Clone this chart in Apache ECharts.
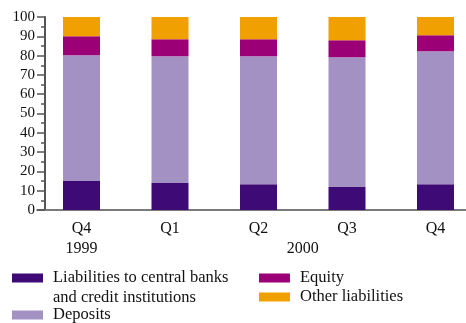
<!DOCTYPE html>
<html>
<head>
<meta charset="utf-8">
<script src="https://cdn.jsdelivr.net/npm/echarts@6/dist/echarts.min.js"></script>
<style>
  html, body { margin: 0; padding: 0; background: #fff; }
  #chart { width: 466px; height: 323px; }
</style>
</head>
<body>
<div id="chart"></div>
<script>
// quarters on the x axis
let quarters = ['Q4', 'Q1', 'Q2', 'Q3', 'Q4'];
// year labels, placed by position in band units
let yearPos = [0.5, 3];
let yearText = ['1999', '2000'];

// percent of total liabilities
let liabilities = [15.0, 14.0, 13.4, 11.9, 13.4];
let deposits = [65.2, 65.7, 66.3, 67.3, 68.9];
let equity = [9.8, 8.8, 8.8, 8.8, 8.2];
let other = [10.0, 11.5, 11.5, 12.0, 9.5];

let names = ['Liabilities to central banks\nand credit institutions', 'Deposits', 'Equity', 'Other liabilities'];
let colors = ['#3e0a76', '#a391c3', '#9c0077', '#f0a000'];
let values = [liabilities, deposits, equity, other];

let font = 'Liberation Serif';

let series = [];
for (let i = 0; i < names.length; i++) {
    series.push({
        name: names[i],
        type: 'bar',
        stack: 'total',
        barWidth: 37,
        data: values[i],
        itemStyle: { color: colors[i] },
        emphasis: { disabled: true }
    });
}

function legendItem(i, left, top, fmt) {
    let item = {
        data: [names[i]],
        left: left,
        top: top,
        padding: 0,
        itemWidth: 31,
        itemHeight: 9,
        icon: 'rect',
        selectedMode: false,
        textStyle: { fontFamily: font, fontSize: 16.5, color: '#111', lineHeight: 20, padding: [0, 0, 0, 5] }
    };
    if (fmt) item.formatter = fmt;
    return item;
}

let option = {
    animation: false,
    color: colors,
    grid: [
        // bars
        { left: 37.25, width: 442.5, top: 17, bottom: 113, outerBoundsMode: 'none', containLabel: false },
        // y axis only
        { left: 45, right: 0, top: 17, bottom: 113, outerBoundsMode: 'none', containLabel: false }
    ],
    legend: [
        // empty first line so the first text line sits beside the swatch
        legendItem(0, 12, 248, function (n) { return '\n' + n; }),
        legendItem(1, 12, 305),
        legendItem(2, 259, 268),
        legendItem(3, 259, 287)
    ],
    xAxis: [{
        type: 'category',
        gridIndex: 0,
        data: quarters,
        axisLine: { lineStyle: { color: '#7a7a7a', width: 2 } },
        axisTick: { show: false },
        axisLabel: { fontFamily: font, fontSize: 16, color: '#111', margin: 11 }
    }, {
        type: 'value',
        gridIndex: 0,
        position: 'bottom',
        min: 0,
        max: 5,
        interval: 0.5,
        axisLine: { show: false },
        axisTick: { show: false },
        splitLine: { show: false },
        axisLabel: {
            fontFamily: font, fontSize: 16, color: '#111', margin: 31,
            showMinLabel: true, showMaxLabel: true,
            formatter: function (v) {
                for (let k = 0; k < yearPos.length; k++) {
                    if (Math.abs(v - yearPos[k]) < 1e-6) return yearText[k];
                }
                return '';
            }
        }
    }, {
        type: 'value',
        gridIndex: 1,
        show: false
    }],
    yAxis: [{
        type: 'value',
        gridIndex: 0,
        min: 0,
        max: 100,
        show: false
    }, {
        type: 'value',
        gridIndex: 1,
        min: 0,
        max: 100,
        interval: 10,
        splitLine: { show: false },
        axisLine: { show: true, lineStyle: { color: '#555', width: 2 } },
        axisTick: { show: true, length: 8, lineStyle: { color: '#555', width: 1.5 } },
        minorTick: { show: true, splitNumber: 2, length: 4, lineStyle: { color: '#555', width: 1.5 } },
        // margin counts from the axis line, so it includes the tick length
        axisLabel: { fontFamily: font, fontSize: 15, color: '#111', margin: 10 }
    }],
    series: series
};

let myChart = echarts.init(document.getElementById('chart'));
myChart.setOption(option);
</script>
</body>
</html>
